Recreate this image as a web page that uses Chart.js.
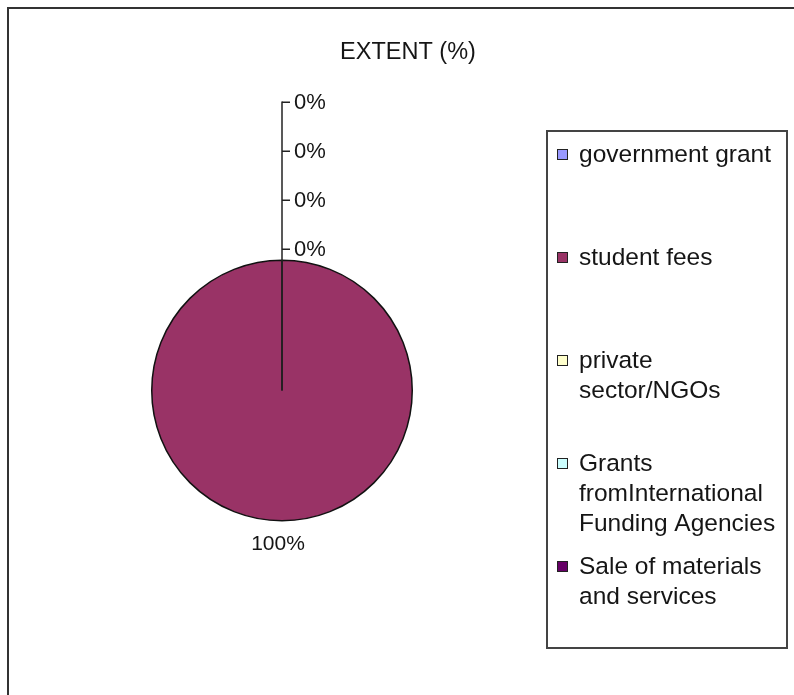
<!DOCTYPE html>
<html>
<head>
<meta charset="utf-8">
<script src="https://cdn.jsdelivr.net/npm/chart.js@4/dist/chart.umd.min.js"></script>
<style>
  html, body { margin: 0; padding: 0; background: #fff; }
  #extent { display: block; }
</style>
</head>
<body>
<canvas id="extent" width="794" height="695"></canvas>
<script>
// data
const categories = ['government grant', 'student fees', 'private sector/NGOs',
  'Grants fromInternational Funding Agencies', 'Sale of materials and services'];
const extentValues = [0, 100, 0, 0, 0];
const sliceColors = ['#9999FF', '#993366', '#FFFFCC', '#CCFFFF', '#660066'];
// legend lines as they wrap in the picture
const legendLines = [
  ['government grant'],
  ['student fees'],
  ['private', 'sector/NGOs'],
  ['Grants', 'fromInternational', 'Funding Agencies'],
  ['Sale of materials', 'and services']
];
const chartTitle = 'EXTENT (%)';

const FONT = '"Liberation Sans", Arial, sans-serif';
const TEXT = '#151515';

// frame, title, data labels and legend
const extentDecor = {
  id: 'extentDecor',
  beforeDraw(chart) {
    const ctx = chart.ctx;
    ctx.save();
    ctx.fillStyle = '#fff';
    ctx.fillRect(0, 0, chart.width, chart.height);
    ctx.strokeStyle = '#333';
    ctx.lineWidth = 2;
    ctx.beginPath();
    ctx.moveTo(8, chart.height);
    ctx.lineTo(8, 8);
    ctx.lineTo(chart.width, 8);
    ctx.stroke();
    ctx.restore();
  },
  afterDatasetsDraw(chart) {
    const ctx = chart.ctx;
    const data = chart.data.datasets[0].data;
    const total = data.reduce((a, b) => a + b, 0);
    const arcs = chart.getDatasetMeta(0).data;
    const cx = arcs[0].x, cy = arcs[0].y, r = arcs[0].outerRadius;

    ctx.save();
    // title
    ctx.fillStyle = TEXT;
    ctx.font = '23.5px ' + FONT;
    ctx.textAlign = 'center';
    ctx.textBaseline = 'middle';
    ctx.fillText(chartTitle, 408, 53);

    // data labels
    let stack = 0;
    let topY = null;
    arcs.forEach((arc, i) => {
      const pct = Math.round(data[i] / total * 100) + '%';
      if (data[i] > 0) {
        const mid = (arc.startAngle + arc.endAngle) / 2;
        ctx.font = '21px ' + FONT;
        ctx.textAlign = 'center';
        ctx.fillText(pct, cx - 4 + Math.cos(mid) * (r + 23), cy + Math.sin(mid) * (r + 23));
      } else {
        // zero slices stack up above the top of the pie
        const y = cy - r - 11 - stack * 49;
        stack++;
        topY = y;
        ctx.strokeStyle = '#222';
        ctx.lineWidth = 1.5;
        ctx.beginPath();
        ctx.moveTo(cx, y);
        ctx.lineTo(cx + 8, y);
        ctx.stroke();
        ctx.font = '22px ' + FONT;
        ctx.textAlign = 'left';
        ctx.fillText(pct, cx + 12, y + 1);
      }
    });
    if (topY !== null) {
      ctx.strokeStyle = '#222';
      ctx.lineWidth = 1.5;
      ctx.beginPath();
      ctx.moveTo(cx, cy);
      ctx.lineTo(cx, topY - 0.75);
      ctx.stroke();
    }

    // legend
    ctx.strokeStyle = '#444';
    ctx.lineWidth = 2;
    ctx.strokeRect(547, 131, 240, 517);
    ctx.font = '24.5px ' + FONT;
    ctx.textAlign = 'left';
    legendLines.forEach((lines, i) => {
      const y0 = 155 + i * 103;
      ctx.fillStyle = sliceColors[i];
      ctx.fillRect(557, y0 - 6, 11, 11);
      ctx.strokeStyle = '#222';
      ctx.lineWidth = 1;
      ctx.strokeRect(557.5, y0 - 5.5, 10, 10);
      ctx.fillStyle = TEXT;
      lines.forEach((t, j) => ctx.fillText(t, 579, y0 + j * 30));
    });
    ctx.restore();
  }
};

const dataExtent = {
  labels: categories,
  datasets: [{
    label: chartTitle,
    data: extentValues,
    backgroundColor: sliceColors,
    borderColor: '#111',
    borderWidth: 1.5
  }]
};

// config
const configExtent = {
  type: 'pie',
  data: dataExtent,
  options: {
    responsive: false,
    animation: false,
    events: [],
    layout: {
      padding: { left: 151, right: 381, top: 259, bottom: 173 }
    },
    plugins: {
      legend: { display: false },
      title: { display: false },
      tooltip: { enabled: false }
    }
  },
  plugins: [extentDecor]
};

const myChartExtent = new Chart(document.getElementById('extent'), configExtent);
</script>
</body>
</html>
